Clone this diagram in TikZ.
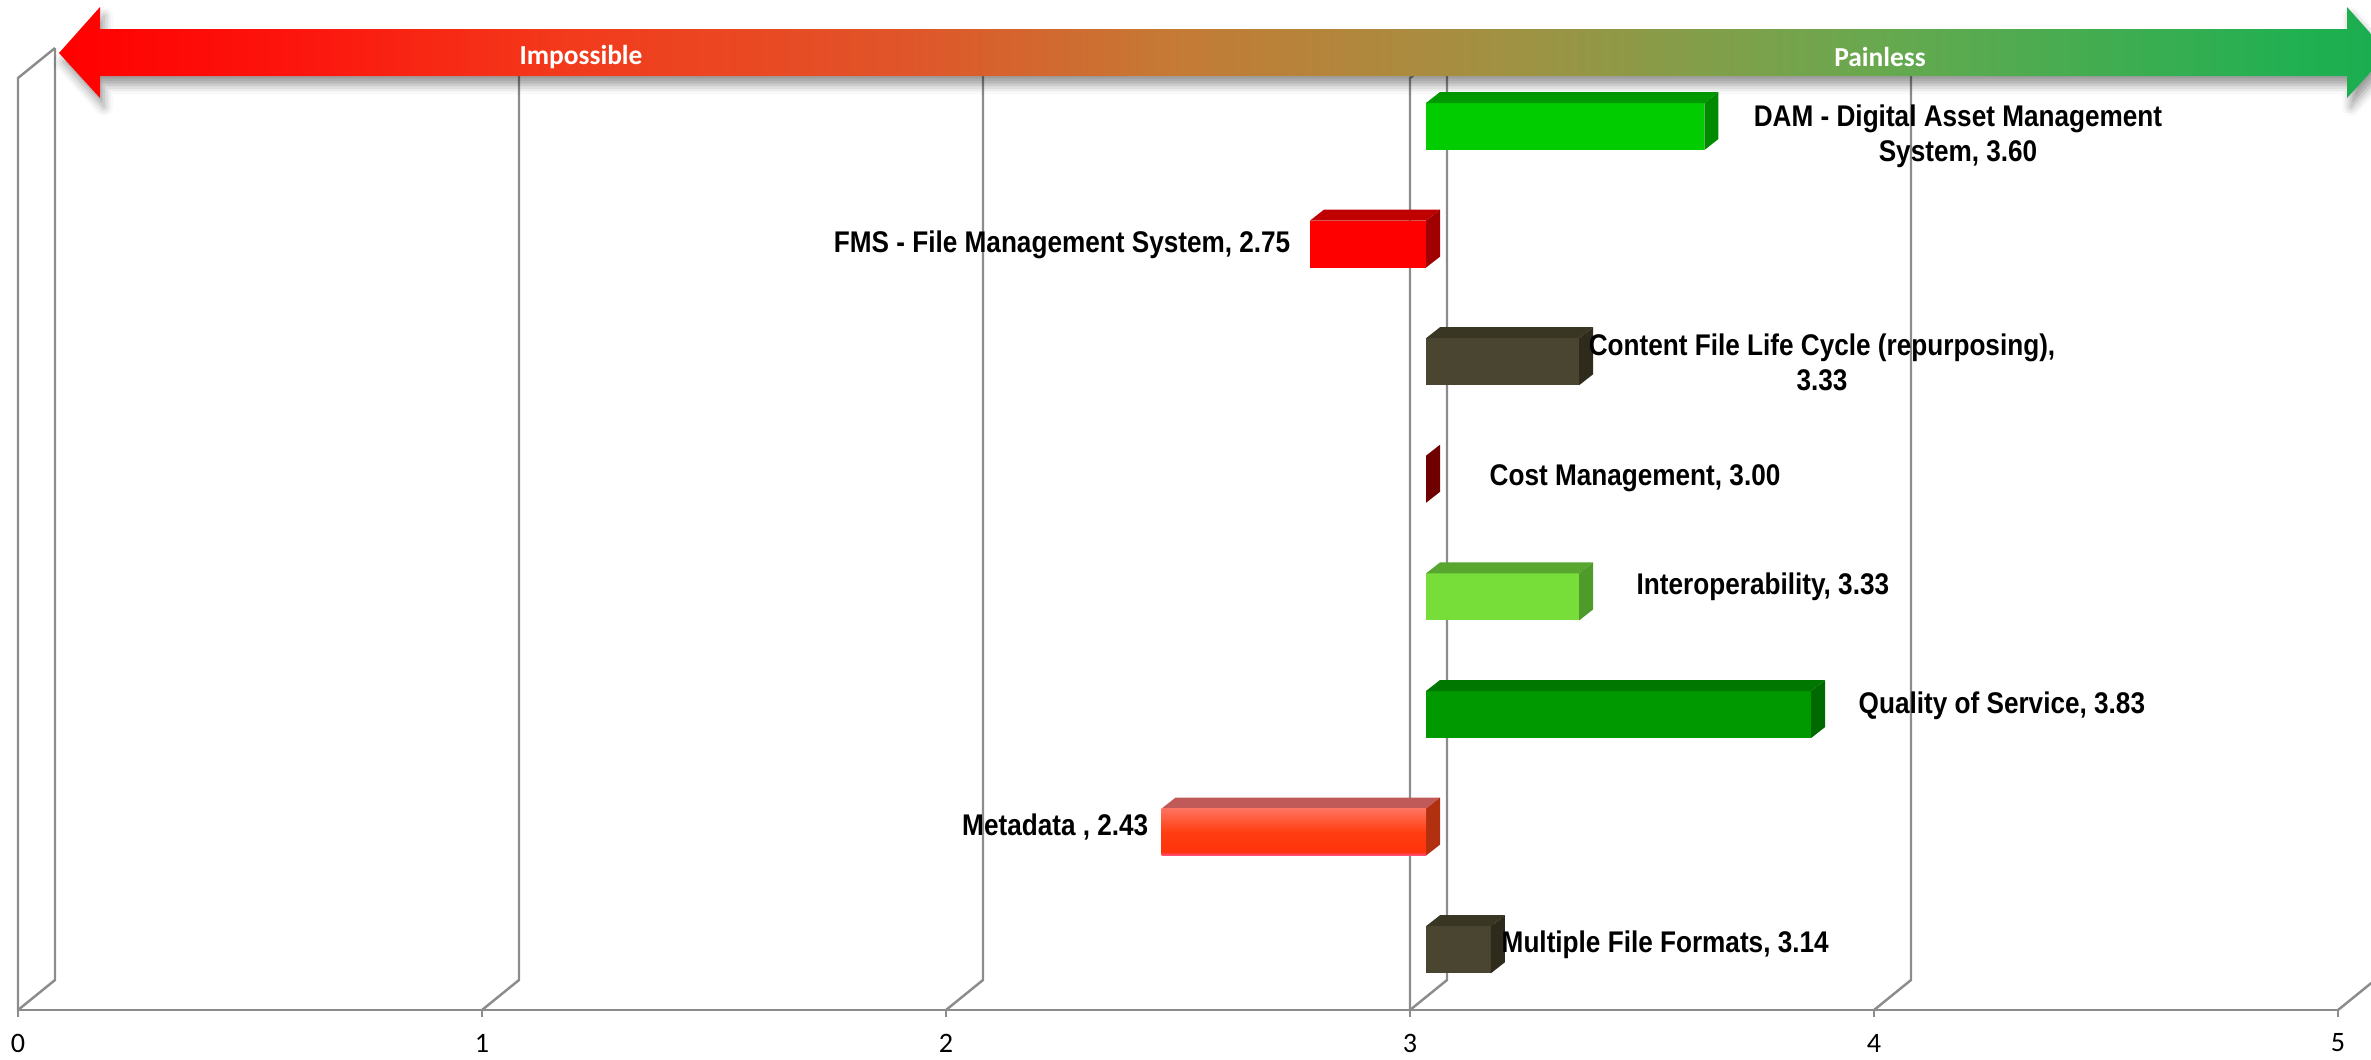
\documentclass[tikz,border=0pt]{standalone}
\usepackage{fontspec}
\setmainfont{Liberation Sans}[FakeStretch=0.875]
\newfontfamily\calfont{Carlito}
\usetikzlibrary{positioning,shadows.blur}

\definecolor{damF}{HTML}{00CC00}\definecolor{damT}{HTML}{009A00}\definecolor{damS}{HTML}{008A00}
\definecolor{fmsF}{HTML}{FF0000}\definecolor{fmsT}{HTML}{C00000}\definecolor{fmsS}{HTML}{A00000}
\definecolor{cflF}{HTML}{4A4530}\definecolor{cflT}{HTML}{3A3624}\definecolor{cflS}{HTML}{2E2B1C}
\definecolor{costF}{HTML}{A00000}\definecolor{costT}{HTML}{800000}\definecolor{costS}{HTML}{700000}
\definecolor{iopF}{HTML}{77DD38}\definecolor{iopT}{HTML}{58A530}\definecolor{iopS}{HTML}{4E9A2A}
\definecolor{qosF}{HTML}{009A00}\definecolor{qosT}{HTML}{007800}\definecolor{qosS}{HTML}{006A00}
\definecolor{metaF}{HTML}{FF3A10}\definecolor{metaT}{HTML}{C05A58}\definecolor{metaS}{HTML}{B03010}
\definecolor{mffF}{HTML}{4A4530}\definecolor{mffT}{HTML}{3A3624}\definecolor{mffS}{HTML}{2E2B1C}

\pgfdeclarehorizontalshading{painshade}{100bp}{rgb(0bp)=(1,0,0); rgb(25bp)=(1,0,0);
  rgb(30bp)=(0.99,0.08,0.05); rgb(36bp)=(0.95,0.23,0.11); rgb(43bp)=(0.88,0.33,0.16);
  rgb(49bp)=(0.77,0.48,0.21); rgb(56bp)=(0.63,0.57,0.26); rgb(64bp)=(0.41,0.66,0.31);
  rgb(73bp)=(0.13,0.69,0.32); rgb(75bp)=(0.10,0.68,0.31); rgb(100bp)=(0.10,0.68,0.31)}
\pgfdeclareverticalshading{metashade}{100bp}{rgb(0bp)=(1,0.33,0.55); rgb(25bp)=(1,0.33,0.55);
  rgb(29bp)=(1,0.2,0.05); rgb(50bp)=(1,0.24,0.06); rgb(75bp)=(1,0.45,0.38); rgb(100bp)=(1,0.45,0.38)}

\tikzset{
  gridline/.style = {draw = black!45, line width = 0.7pt},
  lbl/.style = {font = \bfseries\fontsize{8.5}{10}\selectfont, align = center, inner sep = 0pt},
  ticklbl/.style = {font = \calfont\fontsize{8}{9}\selectfont, inner sep = 0pt},
  endlbl/.style = {font = \calfont\bfseries\fontsize{7.8}{9}\selectfont, text = white, inner sep = 0pt}
}

\begin{document}
\begin{tikzpicture}[x = 0.01cm, y = -0.01cm]
\useasboundingbox (0,0) rectangle (2371,1059);
\clip (0,0) rectangle (2371,1059);

% floor, gridlines and ticks
\foreach \v in {0,...,5} {
  \coordinate (f\v) at ({18+464*\v},1010);
  \draw[gridline] (f\v) -- ++(37,-30) coordinate (b\v) -- ++(0,-932);
  \draw[gridline] (f\v) -- ++(0,7);
  \node[ticklbl] (t\v) at ({18+464*\v},1043) {\v};
}
\draw[gridline] (f0) -- (f5);
\draw[gridline] (f0) -- ++(0,-932) -- ++(37,-30);
\draw[gridline] (f3) -- ++(0,-932) -- ++(37,-30);

% bars, all starting at 3
\foreach \val/\col [count = \i from 0] in {3.60/dam, 2.75/fms, 3.33/cfl, 3.00/cost, 3.33/iop, 3.83/qos, 2.43/meta, 3.14/mff} {
  \pgfmathsetmacro\yt{103+117.6*\i}
  \pgfmathsetmacro\yb{\yt+47}
  \pgfmathsetmacro\xe{1426+464*(\val-3)}
  \pgfmathsetmacro\xl{min(1426,\xe)}
  \pgfmathsetmacro\xr{max(1426,\xe)}
  \fill[fill = \col F] (\xl,\yt) rectangle (\xr,\yb);
  \fill[fill = \col T] (\xl,\yt) -- ++(14,-11) -- (\xr+14,\yt-11) -- (\xr,\yt) -- cycle;
  \fill[fill = \col S] (\xr,\yt) -- ++(14,-11) -- ++(0,47) -- (\xr,\yb) -- cycle;
}
\shade[shading = metashade] (1161.5,808.6) rectangle (1426,855.6);

% scale arrow
\path[blur shadow = {shadow xshift = 0.4mm, shadow yshift = -0.9mm, shadow blur radius = 0.9mm, shadow opacity = 40},
  shading = painshade]
  (59,53) -- (100,7) -- (100,29) -- (2347,29) -- (2347,7) -- (2388,53)
  -- (2347,98) -- (2347,76) -- (100,76) -- (100,98) -- cycle;
\node[endlbl] (imp) at (581,57) {Impossible};
\node[endlbl] (pain) at (1880,57) {Painless};

% data labels
\node[lbl] (dam) at (1958,136) {DAM - Digital Asset Management\\System, 3.60};
\node[lbl, anchor = east] (fms) at (1291,245) {FMS - File Management System, 2.75};
\node[lbl] (cfl) at (1822,362) {Content File Life Cycle (repurposing),\\3.33};
\node[lbl, anchor = west] (cost) at (1489,478) {Cost Management, 3.00};
\node[lbl, anchor = west] (iop) at (1636,587) {Interoperability, 3.33};
\node[lbl, anchor = west] (qos) at (1858,706) {Quality of Service, 3.83};
\node[lbl, anchor = east] (meta) at (1149,827) {Metadata , 2.43};
\node[lbl, anchor = west] (mff) at (1501,945) {Multiple File Formats, 3.14};
\end{tikzpicture}
\end{document}
